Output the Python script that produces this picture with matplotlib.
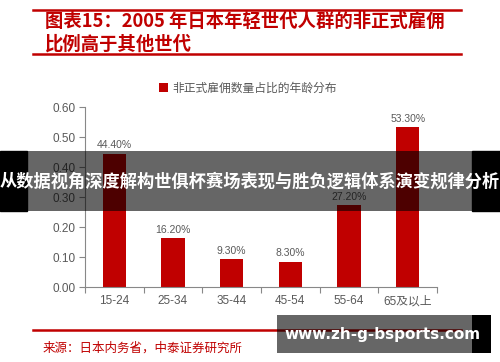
import matplotlib
matplotlib.use('Agg')
import matplotlib.pyplot as plt
from matplotlib.patches import Rectangle
from matplotlib.lines import Line2D

plt.rcParams['font.family'] = ['Noto Sans CJK SC', 'DejaVu Sans']

# Data
age_groups = ['15-24', '25-34', '35-44', '45-54', '55-64', '65及以上']
shares = [0.444, 0.162, 0.093, 0.083, 0.272, 0.533]
share_labels = ['44.40%', '16.20%', '9.30%', '8.30%', '27.20%', '53.30%']
y_ticks = [0.0, 0.1, 0.2, 0.3, 0.4, 0.5, 0.6]

title_text = '图表15：2005 年日本年轻世代人群的非正式雇佣\n比例高于其他世代'
legend_text = '非正式雇佣数量占比的年龄分布'
source_text = '来源：日本内务省，中泰证券研究所'
banner_text = '从数据视角深度解构世俱杯赛场表现与胜负逻辑体系演变规律分析'
watermark_text = 'www.zh-g-bsports.com'

RED = '#C00000'
GREY = '#595959'
W, H = 500, 362
num_font = ['Liberation Sans', 'Noto Sans CJK SC']

fig = plt.figure(figsize=(W / 100, H / 100), dpi=100)
fig.patch.set_facecolor('white')


def fx(px):
    return px / W


def fy(py):
    return 1 - py / H


# header / footer rules
for y in (10, 54, 330):
    fig.add_artist(Line2D([fx(33), fx(461)], [fy(y), fy(y)], color=RED, lw=1.8,
                          transform=fig.transFigure))

fig.text(fx(45), fy(33), title_text, color=RED, fontsize=13.2, fontweight='bold',
         va='center', ha='left', linespacing=1.25)
fig.text(fx(43), fy(348), source_text, color=RED, fontsize=9, va='center', ha='left')

# bars
ax = fig.add_axes([fx(85), fy(287), fx(437) - fx(85), fy(107) - fy(287)])
x = list(range(len(age_groups)))
bars = ax.bar(x, shares, width=0.4, color=RED, label=legend_text, zorder=2)
for xi, val, lab in zip(x, shares, share_labels):
    ax.text(xi, val + 0.012, lab, ha='center', va='bottom', fontsize=7.5,
            color=GREY, family=num_font)

ax.set_xlim(-0.5, len(age_groups) - 0.5)
ax.set_ylim(0, 0.6)
ax.set_yticks(y_ticks)
ax.set_yticklabels(['%.2f' % t for t in y_ticks], family=num_font, fontsize=8.5, color=GREY)
ax.set_xticks([i - 0.5 for i in range(len(age_groups) + 1)])
ax.set_xticklabels([])
ax.set_xticks(x, minor=True)
ax.set_xticklabels(age_groups, minor=True, family=num_font, fontsize=8.5, color=GREY)
ax.tick_params(axis='x', which='minor', length=0, pad=6)
ax.tick_params(axis='x', which='major', length=4, color='#888888')
ax.tick_params(axis='y', length=4, color='#888888', pad=3)
for side in ('top', 'right'):
    ax.spines[side].set_visible(False)
for side in ('left', 'bottom'):
    ax.spines[side].set_color('#888888')
    ax.spines[side].set_linewidth(0.8)

fig.legend(handles=[bars], labels=[legend_text], loc='center', bbox_to_anchor=(fx(248), fy(88)),
           frameon=False, fontsize=8.5, labelcolor=GREY, handlelength=0.7, handleheight=0.7,
           handletextpad=0.4)

# overlay banner
fig.add_artist(Rectangle((0, fy(211)), fx(27), fy(151) - fy(211), color='black',
                         transform=fig.transFigure, zorder=10))
fig.add_artist(Rectangle((fx(472), fy(211)), fx(500) - fx(472), fy(151) - fy(211),
                         color='black', transform=fig.transFigure, zorder=10))
fig.add_artist(Rectangle((fx(27), fy(211)), fx(472) - fx(27), fy(151) - fy(211),
                         color='black', alpha=0.6, lw=0, transform=fig.transFigure, zorder=10))
fig.text(0.5, fy(182), banner_text, color='white', fontsize=12.4, fontweight='bold',
         ha='center', va='center', zorder=11)

# watermark box
fig.add_artist(Rectangle((fx(277), fy(353)), fx(472) - fx(277), fy(315) - fy(353),
                         color='black', alpha=0.6, lw=0, transform=fig.transFigure, zorder=10))
fig.add_artist(Rectangle((fx(472), fy(353)), fx(491) - fx(472), fy(315) - fy(353),
                         color='black', lw=0, transform=fig.transFigure, zorder=10))
fig.text(fx(383), fy(335), watermark_text, color='white', fontsize=11, fontweight='bold',
         ha='center', va='center', family=['DejaVu Sans'], zorder=11)

fig.savefig('out.png', dpi=100)
